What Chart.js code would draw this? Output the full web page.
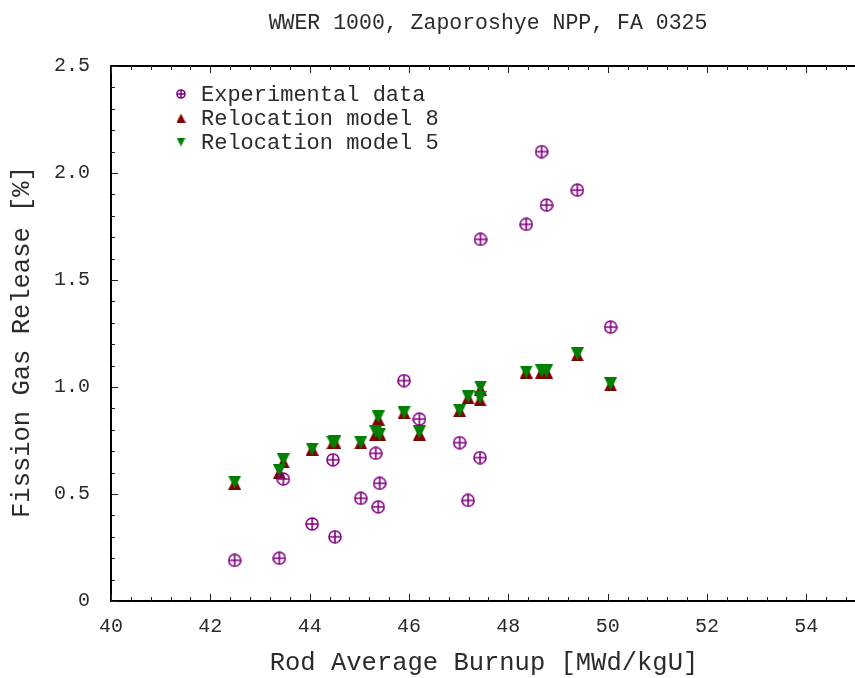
<!DOCTYPE html>
<html>
<head>
<meta charset="utf-8">
<title>WWER 1000 FGR</title>
<script src="https://cdn.jsdelivr.net/npm/chart.js@4.4.0/dist/chart.umd.min.js"></script>
<style>
  html, body { margin: 0; padding: 0; background: #fff; overflow: hidden; }
  #contenedor { width: 855px; height: 678px; }
</style>
</head>
<body>
<div id="contenedor"><canvas id="graficaFGR" width="855" height="678"></canvas></div>
<script>
// Datos
const burnupExp = [42.49, 43.39, 43.47, 44.05, 44.47, 44.51, 45.03, 45.33, 45.38, 45.41, 45.90,
                   46.21, 47.02, 47.19, 47.43, 47.44, 48.36, 48.67, 48.77, 49.39, 50.06];
const fgrExp = [0.19, 0.20, 0.57, 0.36, 0.66, 0.30, 0.48, 0.69, 0.44, 0.55, 1.03,
                0.85, 0.74, 0.47, 0.67, 1.69, 1.76, 2.10, 1.85, 1.92, 1.28];

const burnupModelo = [42.49, 43.39, 43.47, 44.05, 44.47, 44.51, 45.03, 45.33, 45.38, 45.41, 45.90,
                      46.21, 47.02, 47.19, 47.43, 47.44, 48.36, 48.67, 48.77, 49.39, 50.06];
const fgrModelo8 = [0.55, 0.60, 0.65, 0.71, 0.74, 0.74, 0.74, 0.78, 0.85, 0.78, 0.88,
                    0.78, 0.89, 0.95, 0.94, 0.99, 1.07, 1.07, 1.07, 1.15, 1.01];
const fgrModelo5 = [0.555, 0.61, 0.66, 0.71, 0.74, 0.745, 0.74, 0.79, 0.86, 0.78, 0.88,
                    0.79, 0.89, 0.955, 0.95, 1.00, 1.07, 1.075, 1.075, 1.155, 1.015];

const ticksX = [40, 42, 44, 46, 48, 50, 52, 54];
const ticksY = [0, 0.5, 1.0, 1.5, 2.0, 2.5];

const etiquetas = ['Experimental data', 'Relocation model 8', 'Relocation model 5'];
const titulo = 'WWER 1000, Zaporoshye NPP, FA 0325';
const tituloX = 'Rod Average Burnup [MWd/kgU]';
const tituloY = 'Fission Gas Release [%]';

const COLORES = { exp: '#800080', m8: '#800000', m5: '#008000', texto: '#2b2b2b' };
const FUENTE = '"Liberation Mono", "DejaVu Sans Mono", monospace';

// Marcadores dibujados en canvas pequeños
function marcadorCruzCirculo(tam, color) {
  const c = document.createElement('canvas');
  c.width = tam; c.height = tam;
  const g = c.getContext('2d');
  const r = tam / 2 - 1;
  g.strokeStyle = color;
  g.lineWidth = 1.6;
  g.beginPath(); g.arc(tam / 2, tam / 2, r, 0, Math.PI * 2); g.stroke();
  g.beginPath();
  g.moveTo(tam / 2, 1); g.lineTo(tam / 2, tam - 1);
  g.moveTo(1, tam / 2); g.lineTo(tam - 1, tam / 2);
  g.stroke();
  return c;
}

function marcadorTriangulo(tam, color, haciaArriba) {
  const c = document.createElement('canvas');
  c.width = tam; c.height = tam;
  const g = c.getContext('2d');
  g.fillStyle = color;
  g.beginPath();
  if (haciaArriba) {
    g.moveTo(tam / 2, 0); g.lineTo(tam, tam); g.lineTo(0, tam);
  } else {
    g.moveTo(0, 0); g.lineTo(tam, 0); g.lineTo(tam / 2, tam);
  }
  g.closePath(); g.fill();
  return c;
}

const imgExp = marcadorCruzCirculo(14, COLORES.exp);
const imgM8 = marcadorTriangulo(13, COLORES.m8, true);
const imgM5 = marcadorTriangulo(13, COLORES.m5, false);
const legendaImgs = [marcadorCruzCirculo(10, COLORES.exp), marcadorTriangulo(9, COLORES.m8, true), marcadorTriangulo(9, COLORES.m5, false)];

const puntos = (xs, ys) => xs.map((x, i) => ({ x: x, y: ys[i] }));

// Marco, ticks menores, títulos y leyenda
const pluginMarco = {
  id: 'marco',
  beforeDatasetsDraw(chart) {
    const { ctx, chartArea: a, scales: { x, y } } = chart;
    ctx.save();
    ctx.strokeStyle = '#000';
    ctx.lineWidth = 2;
    ctx.beginPath();
    ctx.moveTo(chart.width, a.top); ctx.lineTo(a.left, a.top);
    ctx.lineTo(a.left, a.bottom); ctx.lineTo(chart.width, a.bottom);
    ctx.stroke();

    ctx.lineWidth = 1;
    ctx.strokeStyle = '#222';
    ctx.beginPath();
    for (let k = 0; k <= 40; k++) {
      const v = 40 + k * 0.4;
      const px = Math.round(x.getPixelForValue(v)) + 0.5;
      if (px > chart.width) break;
      const largo = (k % 5 === 0) ? 7 : 4;
      ctx.moveTo(px, a.bottom); ctx.lineTo(px, a.bottom - largo);
      ctx.moveTo(px, a.top); ctx.lineTo(px, a.top + largo);
    }
    for (let k = 0; k <= 25; k++) {
      const py = Math.round(y.getPixelForValue(k * 0.1)) + 0.5;
      const largo = (k % 5 === 0) ? 7 : 4;
      ctx.moveTo(a.left, py); ctx.lineTo(a.left + largo, py);
    }
    ctx.stroke();
    ctx.restore();
  },
  afterDraw(chart) {
    const { ctx, chartArea: a } = chart;
    ctx.save();
    ctx.fillStyle = COLORES.texto;
    ctx.textAlign = 'center';
    ctx.textBaseline = 'middle';
    ctx.font = '21.5px ' + FUENTE;
    ctx.fillText(titulo, 488, 23);
    ctx.font = '25.5px ' + FUENTE;
    ctx.fillText(tituloX, 484, 663);
    ctx.translate(22, 342);
    ctx.rotate(-Math.PI / 2);
    ctx.fillText(tituloY, 0, 0);
    ctx.restore();

    // Leyenda
    ctx.save();
    ctx.font = '22px ' + FUENTE;
    ctx.fillStyle = COLORES.texto;
    ctx.textAlign = 'left';
    ctx.textBaseline = 'middle';
    chart.data.datasets.forEach((ds, i) => {
      const yy = a.top + 28 + i * 24;
      const im = legendaImgs[i];
      ctx.drawImage(im, a.left + 70 - im.width / 2, yy - im.height / 2);
      ctx.fillText(ds.label, a.left + 90, yy + 1);
    });
    ctx.restore();
  }
};

new Chart(document.getElementById('graficaFGR'), {
  type: 'scatter',
  data: {
    datasets: [
      { label: etiquetas[0], data: puntos(burnupExp, fgrExp), pointStyle: imgExp, order: 0 },
      { label: etiquetas[1], data: puntos(burnupModelo, fgrModelo8), pointStyle: imgM8, order: 2 },
      { label: etiquetas[2], data: puntos(burnupModelo, fgrModelo5), pointStyle: imgM5, order: 1 }
    ]
  },
  options: {
    responsive: false,
    animation: false,
    events: [],
    layout: { padding: { top: 66, left: 0, right: 0, bottom: 0 } },
    plugins: { legend: { display: false }, tooltip: { enabled: false }, title: { display: false } },
    scales: {
      x: {
        type: 'linear',
        min: 40,
        max: 54.88,
        grid: { display: false },
        border: { display: false },
        afterBuildTicks: (s) => { s.ticks = ticksX.map(v => ({ value: v })); },
        afterFit: (s) => { s.height = 77; },
        ticks: { color: COLORES.texto, padding: 6, font: { family: FUENTE, size: 20 }, maxRotation: 0 }
      },
      y: {
        type: 'linear',
        min: 0,
        max: 2.5,
        grid: { display: false },
        border: { display: false },
        afterBuildTicks: (s) => { s.ticks = ticksY.map(v => ({ value: v })); },
        afterFit: (s) => { s.width = 111; },
        ticks: {
          color: COLORES.texto, padding: 13, font: { family: FUENTE, size: 20 },
          callback: (v) => (v === 0 ? '0' : v.toFixed(1))
        }
      }
    }
  },
  plugins: [pluginMarco]
});
</script>
</body>
</html>
